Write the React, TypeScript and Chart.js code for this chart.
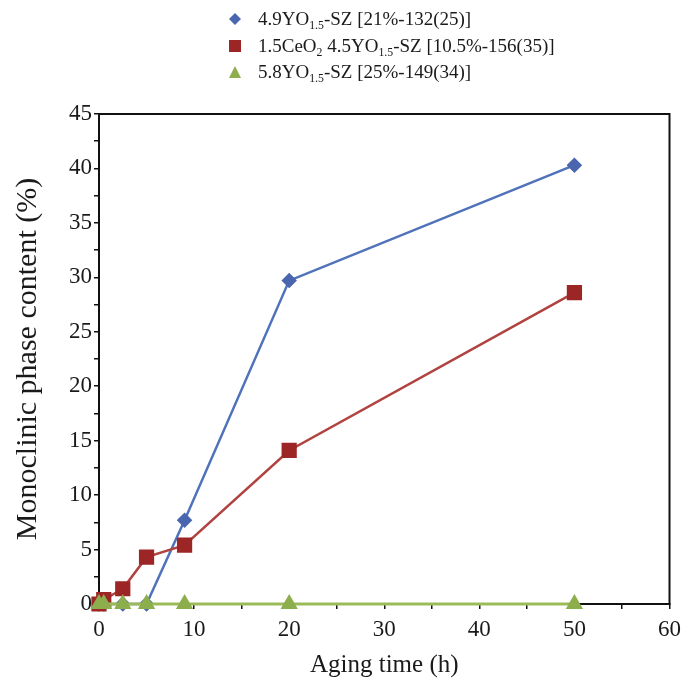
import React, { useEffect, useRef } from "react";
import { Chart, registerables } from "chart.js";

Chart.register(...registerables);

const agingHours = [0, 0.5, 2.5, 5, 9, 20, 50];
const series49Y = [0, 0, 0, 0, 7.7, 29.7, 40.3];
const seriesCeY = [0, 0.4, 1.4, 4.3, 5.4, 14.1, 28.6];
const series58Y = [0, 0, 0, 0, 0, 0, 0];

const xTicks = [0, 10, 20, 30, 40, 50, 60];
const yTicks = [0, 5, 10, 15, 20, 25, 30, 35, 40, 45];

const FONT = "'Liberation Serif', 'Times New Roman', Times, serif";
const BLUE = "#4F72BA";
const BLUE_M = "#4A66AE";
const RED = "#B0433F";
const RED_M = "#9C2626";
const GREEN = "#9BBB59";
const GREEN_M = "#8DAE4C";

const toPts = (ys: number[]) => agingHours.map((x, i) => ({ x, y: ys[i] }));

const boxPlugin = {
  id: "boxPlugin",
  beforeDatasetsDraw(chart: any) {
    const { ctx, chartArea } = chart;
    ctx.save();
    ctx.strokeStyle = "#111";
    ctx.lineWidth = 2;
    ctx.strokeRect(chartArea.left, chartArea.top, chartArea.right - chartArea.left, chartArea.bottom - chartArea.top);
    ctx.restore();
  },
};

function Sub({ children }: { children: React.ReactNode }) {
  return (
    <span style={{ fontSize: "0.62em", position: "relative", top: "0.35em" }}>{children}</span>
  );
}

export default function App() {
  const ref = useRef<HTMLCanvasElement | null>(null);

  useEffect(() => {
    if (!ref.current) return;
    const chart = new Chart(ref.current, {
      type: "line",
      data: {
        datasets: [
          {
            label: "4.9YO1.5-SZ [21%-132(25)]",
            data: toPts(series49Y),
            borderColor: BLUE,
            backgroundColor: BLUE_M,
            pointBackgroundColor: BLUE_M,
            pointBorderColor: BLUE_M,
            pointStyle: "rectRot",
            pointRadius: 6,
            borderWidth: 2.5,
            clip: false,
            order: 2,
          },
          {
            label: "1.5CeO2 4.5YO1.5-SZ [10.5%-156(35)]",
            data: toPts(seriesCeY),
            borderColor: RED,
            backgroundColor: RED_M,
            pointBackgroundColor: RED_M,
            pointBorderColor: RED_M,
            pointStyle: "rect",
            pointRadius: 9,
            borderWidth: 2.5,
            clip: false,
            order: 1,
          },
          {
            label: "5.8YO1.5-SZ [25%-149(34)]",
            data: toPts(series58Y),
            borderColor: GREEN,
            backgroundColor: GREEN_M,
            pointBackgroundColor: GREEN_M,
            pointBorderColor: GREEN_M,
            pointStyle: "triangle",
            pointRadius: 7,
            borderWidth: 3,
            clip: false,
            order: 0,
          },
        ],
      },
      options: {
        animation: false,
        responsive: false,
        maintainAspectRatio: false,
        layout: { padding: { top: 114, right: 15, bottom: 0, left: 0 } },
        plugins: {
          legend: { display: false },
          tooltip: { enabled: false },
        },
        scales: {
          x: {
            type: "linear",
            min: 0,
            max: 60,
            afterFit: (s: any) => {
              s.height = 83;
            },
            ticks: {
              stepSize: 5,
              autoSkip: false,
              maxRotation: 0,
              padding: 7,
              color: "#1a1a1a",
              font: { family: FONT, size: 23 },
              callback: (v: any) => (xTicks.includes(Number(v)) ? String(v) : ""),
            },
            grid: { drawOnChartArea: false, drawTicks: true, tickLength: 5, color: "#111", lineWidth: 1.5 },
            border: { display: true, color: "#111", width: 2 },
            title: {
              display: true,
              text: "Aging time (h)",
              color: "#1a1a1a",
              font: { family: FONT, size: 25 },
              padding: { top: 0, bottom: 7 },
            },
          },
          y: {
            type: "linear",
            min: 0,
            max: 45,
            afterFit: (s: any) => {
              s.width = 99;
            },
            ticks: {
              stepSize: 2.5,
              autoSkip: false,
              padding: 2,
              color: "#1a1a1a",
              font: { family: FONT, size: 23 },
              callback: (v: any) => (yTicks.includes(Number(v)) ? String(v) : ""),
            },
            grid: { drawOnChartArea: false, drawTicks: true, tickLength: 5, color: "#111", lineWidth: 1.5 },
            border: { display: true, color: "#111", width: 2 },
            title: {
              display: true,
              text: "Monoclinic phase content (%)",
              color: "#1a1a1a",
              font: { family: FONT, size: 30 },
              padding: { top: 10, bottom: 0 },
            },
          },
        },
      },
      plugins: [boxPlugin],
    });
    return () => chart.destroy();
  }, []);

  const rowStyle: React.CSSProperties = {
    position: "absolute",
    left: 228,
    height: 26,
    display: "flex",
    alignItems: "center",
    whiteSpace: "nowrap",
    fontFamily: FONT,
    fontSize: 19,
    color: "#1a1a1a",
  };
  const markerBox: React.CSSProperties = { width: 30, display: "flex", alignItems: "center" };

  return (
    <div style={{ position: "fixed", left: 0, top: 0, width: 688, height: 687, background: "#fff" }}>
      <canvas ref={ref} width={688} height={687} style={{ position: "absolute", left: 0, top: 0 }} />
      <div style={{ ...rowStyle, top: 6 }}>
        <span style={markerBox}>
          <svg width="14" height="14"><polygon points="7,1 13,7 7,13 1,7" fill={BLUE_M} /></svg>
        </span>
        <span>
          4.9YO<Sub>1.5</Sub>-SZ [21%-132(25)]
        </span>
      </div>
      <div style={{ ...rowStyle, top: 33 }}>
        <span style={markerBox}>
          <svg width="14" height="14"><rect x="1" y="1" width="12" height="12" fill={RED_M} /></svg>
        </span>
        <span>
          1.5CeO<Sub>2</Sub> 4.5YO<Sub>1.5</Sub>-SZ [10.5%-156(35)]
        </span>
      </div>
      <div style={{ ...rowStyle, top: 59 }}>
        <span style={markerBox}>
          <svg width="14" height="14"><polygon points="7,1 13,13 1,13" fill={GREEN_M} /></svg>
        </span>
        <span>
          5.8YO<Sub>1.5</Sub>-SZ [25%-149(34)]
        </span>
      </div>
    </div>
  );
}
